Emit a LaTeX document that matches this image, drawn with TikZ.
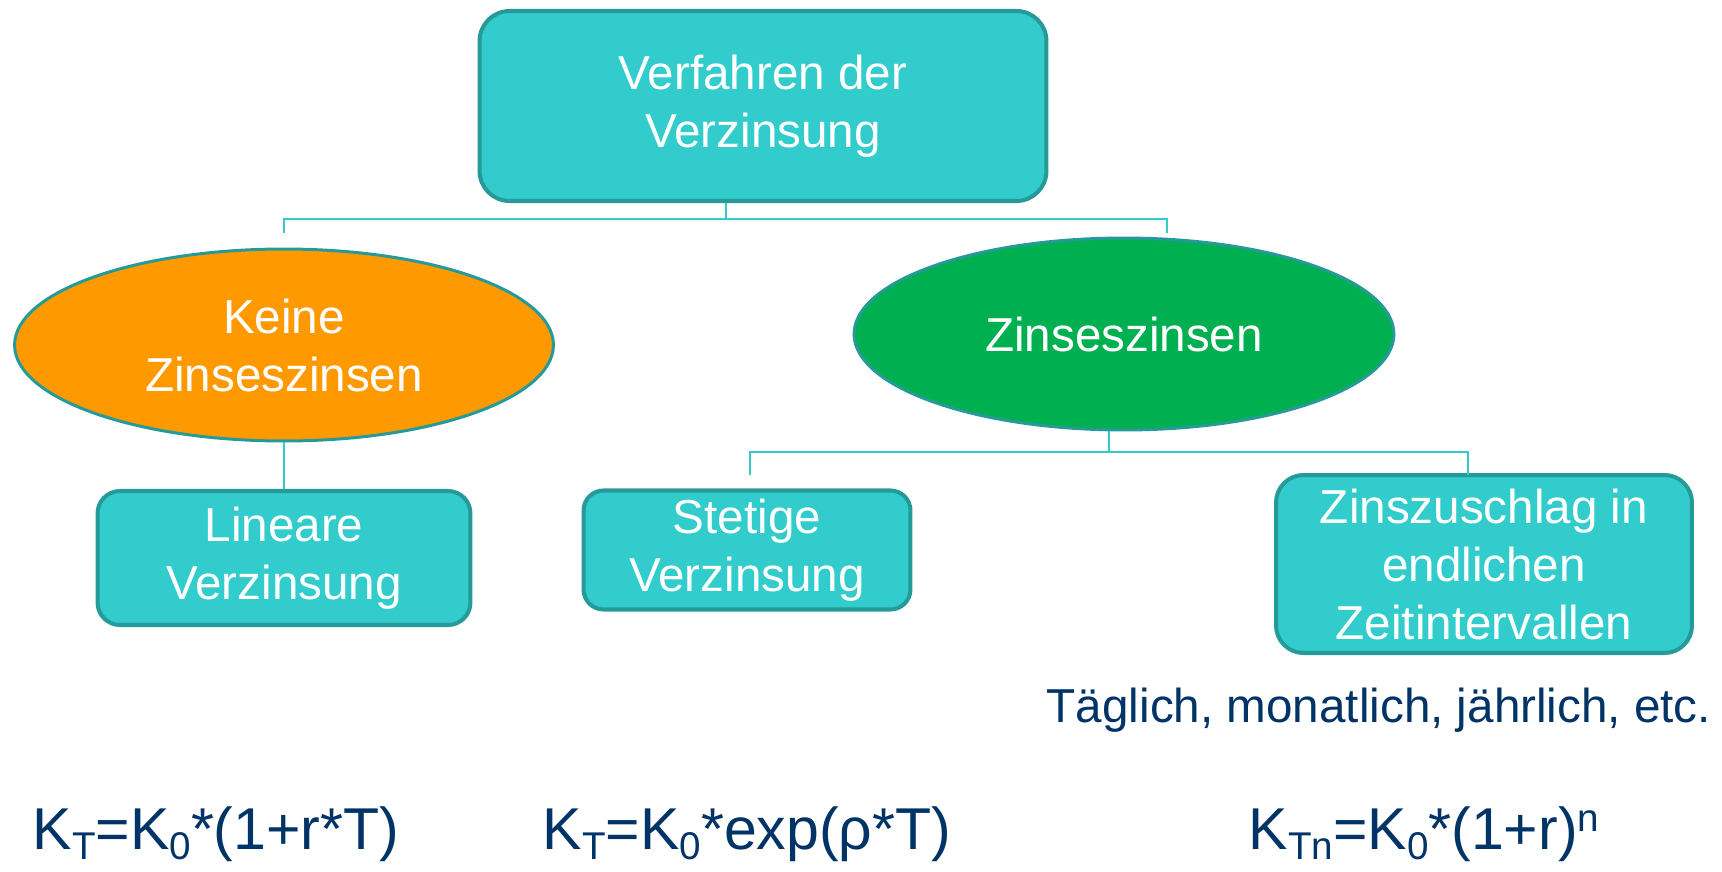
\documentclass[tikz,border=0pt]{standalone}
\usepackage{fontspec}
\setmainfont{Liberation Sans}
\usetikzlibrary{shapes.geometric}

\definecolor{boxfill}{RGB}{51,204,204}
\definecolor{boxline}{RGB}{38,153,153}
\definecolor{orangefill}{RGB}{255,153,0}
\definecolor{greenfill}{RGB}{0,176,80}
\definecolor{navy}{RGB}{0,51,102}

\newcommand{\lowsub}[1]{\raisebox{-6pt}{\fontsize{22}{22}\selectfont #1}}
\newcommand{\highsup}[1]{\raisebox{10pt}{\fontsize{22}{22}\selectfont #1}}

\tikzset{
    boxnode/.style={draw=boxline, fill=boxfill, line width=2.3pt, text=white, align=center,
        font=\fontsize{27.1}{33}\selectfont, inner sep=0pt},
    ovalnode/.style={ellipse, draw=boxline, line width=1.7pt, text=white, align=center,
        font=\fontsize{27.1}{33}\selectfont, inner sep=0pt},
    brk/.style={draw=boxfill, line width=0.9pt},
    formula/.style={text=navy, font=\fontsize{33.6}{40}\selectfont, anchor=base, inner sep=0pt}
}

\begin{document}
\begin{tikzpicture}[x=0.02cm, y=-0.02cm]
    \useasboundingbox (0,0) rectangle (1722,872);

    % Top box
    \node[boxnode, minimum width=11.34cm, minimum height=3.8cm, rounded corners=0.6cm] (verf) at (763,106) {Verfahren der\\Verzinsung};

    % Two kinds
    \node[ovalnode, fill=orangefill, minimum width=10.78cm, minimum height=3.84cm] (keine) at (284,345) {Keine\\Zinseszinsen};
    \node[ovalnode, fill=greenfill, minimum width=10.8cm, minimum height=3.84cm] (zins) at (1124,334) {Zinseszinsen};

    % Lower boxes
    \node[boxnode, minimum width=7.46cm, minimum height=2.68cm, rounded corners=0.45cm] (linear) at (284,558) {Lineare\\Verzinsung};
    \node[boxnode, minimum width=6.54cm, minimum height=2.38cm, rounded corners=0.4cm] (stetig) at (747,550) {Stetige\\Verzinsung};
    \node[boxnode, minimum width=8.32cm, minimum height=3.56cm, rounded corners=0.55cm] (zzs) at (1484,564) {Zinszuschlag in\\endlichen\\Zeitintervallen};

    % Brackets
    \coordinate (b1) at (726,219);
    \coordinate (b1l) at (284,233);
    \coordinate (b1r) at (1167,233);
    \draw[brk] (b1 |- verf.south) -- (b1);
    \draw[brk] (b1l) |- (b1) -| (b1r);

    \coordinate (b2) at (1109,452);
    \coordinate (b2l) at (750,475);
    \coordinate (b2r) at (1468,475);
    \draw[brk] (b2 |- zins.south) -- (b2);
    \draw[brk] (b2l) |- (b2) -| (b2r);

    \draw[brk] (keine.south) -- (linear.north);

    % Notes and formulas
    \node[text=navy, font=\fontsize{27.1}{33}\selectfont, anchor=base, inner sep=0pt] (note) at (1379,722) {Täglich, monatlich, jährlich, etc.};

    \node[formula] (f1) at (216,849) {K\lowsub{T}=K\lowsub{0}*(1+r*T)};
    \node[formula] (f2) at (747,849) {K\lowsub{T}=K\lowsub{0}*exp(ρ*T)};
    \node[formula] (f3) at (1424,849) {K\lowsub{Tn}=K\lowsub{0}*(1+r)\highsup{n}};
\end{tikzpicture}
\end{document}
